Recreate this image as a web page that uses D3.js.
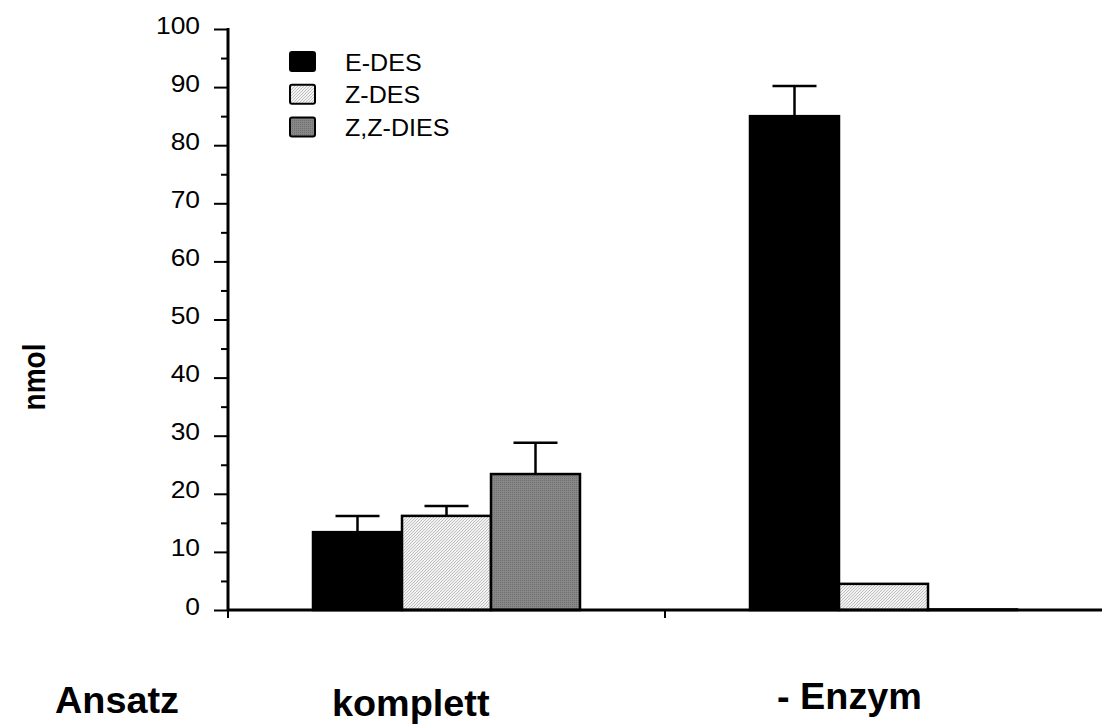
<!DOCTYPE html>
<html>
<head>
<meta charset="utf-8">
<script src="https://cdn.jsdelivr.net/npm/d3@7"></script>
<style>
  html, body { margin: 0; padding: 0; background: #fff; }
  svg { display: block; font-family: Arial, "Liberation Sans", Helvetica, sans-serif; }
</style>
</head>
<body>
<svg id="chart" width="1102" height="725"></svg>
<script>
// ---- data ----
const categories = ["komplett", "- Enzym"];
const series = ["E-DES", "Z-DES", "Z,Z-DIES"];
const meanKomplett = [13.4, 16.2, 23.4];
const errKomplett  = [2.8, 1.7, 5.4];
const meanEnzym    = [85.0, 4.5, 0.1];
const errEnzym     = [5.2, 0, 0];
const yTicks = [0, 10, 20, 30, 40, 50, 60, 70, 80, 90, 100];
const yMinorTicks = [5, 15, 25, 35, 45, 55, 65, 75, 85, 95];
const yLabel = "nmol";
const xTitle = "Ansatz";

const means = [meanKomplett, meanEnzym];
const errs = [errKomplett, errEnzym];

const svg = d3.select("#chart");
const SX = 1.1; // horizontal text stretch

// patterns
const defs = svg.append("defs");
const p1 = defs.append("pattern").attr("id", "hatch").attr("patternUnits", "userSpaceOnUse")
  .attr("width", 3).attr("height", 3);
p1.append("rect").attr("width", 3).attr("height", 3).attr("fill", "#f2f2f2");
p1.append("path").attr("d", "M0,3 L3,0 M-1,1 L1,-1 M2,4 L4,2").attr("stroke", "#b4b4b4").attr("stroke-width", 0.8);
const p2 = defs.append("pattern").attr("id", "dots").attr("patternUnits", "userSpaceOnUse")
  .attr("width", 2).attr("height", 2);
p2.append("rect").attr("width", 2).attr("height", 2).attr("fill", "#878787");
p2.append("rect").attr("width", 1).attr("height", 1).attr("fill", "#707070");
const fills = ["#000", "url(#hatch)", "url(#dots)"];

// scales
const y = d3.scaleLinear().domain([0, 100]).range([610, 29]);
const x = d3.scaleBand().domain(categories).range([228, 1102]).padding(0);
const xi = d3.scaleBand().domain(series).range([85, x.bandwidth() - 85]).padding(0);

// y axis
const yAxis = svg.append("g").attr("transform", "translate(228,0)")
  .call(d3.axisLeft(y).tickValues(yTicks).tickSize(14).tickFormat(""));
yAxis.select(".domain").remove();
yAxis.selectAll(".tick line").attr("stroke", "#000").attr("stroke-width", 2);
svg.append("g").attr("transform", "translate(228,0)")
  .call(d3.axisLeft(y).tickValues(yMinorTicks).tickSize(7).tickFormat(""))
  .call(g => g.select(".domain").remove())
  .selectAll(".tick line").attr("stroke", "#000").attr("stroke-width", 2);
svg.append("line").attr("x1", 228).attr("x2", 228).attr("y1", y(100) - 1).attr("y2", y(0) + 1)
  .attr("stroke", "#000").attr("stroke-width", 3);

// y tick labels
svg.append("g").selectAll("text").data(yTicks).join("text")
  .attr("transform", d => `translate(200,${y(d) + 4.5}) scale(${SX},1)`)
  .attr("text-anchor", "end").attr("font-size", 24).attr("fill", "#000")
  .text(d => d);

// bars
const groups = svg.append("g").selectAll("g").data(categories).join("g")
  .attr("transform", d => `translate(${x(d)},0)`);
groups.each(function(c, ci) {
  const g = d3.select(this);
  series.forEach((s, si) => {
    const v = means[ci][si], e = errs[ci][si];
    const bx = xi(s), bw = xi.bandwidth();
    if (e > 0) {
      const cx = bx + bw / 2;
      g.append("line").attr("x1", cx).attr("x2", cx).attr("y1", y(v)).attr("y2", y(v + e))
        .attr("stroke", "#000").attr("stroke-width", 2.5);
      g.append("line").attr("x1", cx - 22).attr("x2", cx + 22).attr("y1", y(v + e)).attr("y2", y(v + e))
        .attr("stroke", "#000").attr("stroke-width", 2.5);
    }
    g.append("rect").attr("x", bx).attr("y", y(v)).attr("width", bw).attr("height", y(0) - y(v))
      .attr("fill", fills[si]).attr("stroke", "#000").attr("stroke-width", 2.5);
  });
});

// x axis
svg.append("line").attr("x1", 228).attr("x2", 1102).attr("y1", y(0)).attr("y2", y(0))
  .attr("stroke", "#000").attr("stroke-width", 3);
svg.append("g").selectAll("line").data([228, x(categories[1])]).join("line")
  .attr("x1", d => d).attr("x2", d => d).attr("y1", y(0)).attr("y2", y(0) + 8)
  .attr("stroke", "#000").attr("stroke-width", 2);

// legend
const leg = svg.append("g").attr("transform", "translate(290,52)");
series.forEach((s, i) => {
  const gy = i * 32.8;
  leg.append("rect").attr("x", 0).attr("y", gy).attr("width", 25).attr("height", 19)
    .attr("rx", 2).attr("fill", fills[i]).attr("stroke", "#000").attr("stroke-width", 2);
  leg.append("text").attr("transform", `translate(55,${gy + 18.5}) scale(${SX * 0.95},1)`)
    .attr("font-size", 24).attr("fill", "#000").text(s);
});

// y label
svg.append("text").attr("transform", `translate(45,377) scale(${SX},1) rotate(-90)`)
  .attr("text-anchor", "middle").attr("font-size", 28).attr("font-weight", "bold").text(yLabel);

// category labels
svg.append("text").attr("transform", `translate(55,713) scale(1.05,1)`)
  .attr("font-size", 36).attr("font-weight", "bold").text(xTitle);
const catLabelX = [332, 777];
const catLabelY = [716, 709];
svg.append("g").selectAll("text").data(categories).join("text")
  .attr("transform", (d, i) => `translate(${catLabelX[i]},${catLabelY[i]}) scale(1.05,1)`)
  .attr("font-size", 36).attr("font-weight", "bold").text(d => d);
</script>
</body>
</html>
